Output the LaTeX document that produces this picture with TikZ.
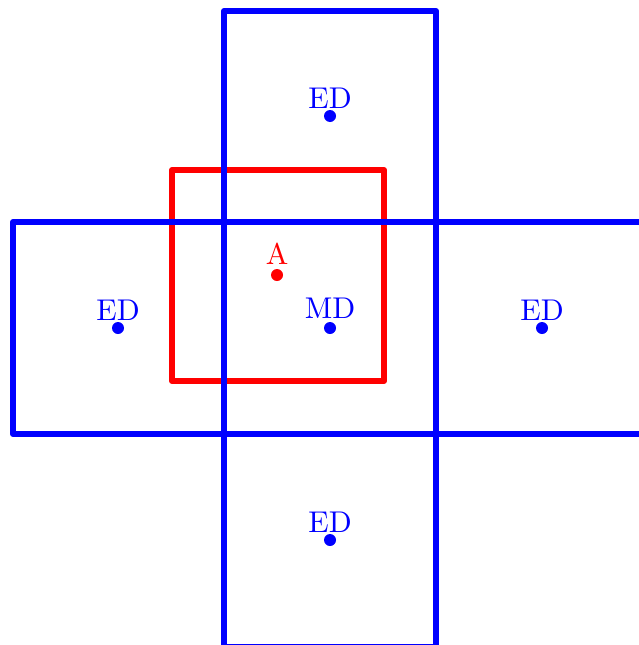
\documentclass[tikz,border=0pt]{standalone}
\begin{document}
\begin{tikzpicture}[x=1pt,y=-1pt,
  dot/.style={circle,fill,inner sep=0pt,minimum size=12pt},
  lbl/.style={anchor=base,inner sep=0pt,font=\fontsize{10}{12}\selectfont},
  frame/.style={line width=6pt,line join=round}]
\useasboundingbox (0,0) rectangle (639,645);
% red square
\draw[frame,red] (172,170) rectangle (384,381);
% blue cross
\draw[frame,blue] (13,222) rectangle (649,434);
\draw[frame,blue] (224,11) rectangle (436,647);
% dots
\node[dot,blue] (md) at (330,328) {};
\node[dot,blue] (edt) at (330,116) {};
\node[dot,blue] (edl) at (118,328) {};
\node[dot,blue] (edr) at (542,328) {};
\node[dot,blue] (edb) at (330,540) {};
\node[dot,red] (a) at (277,275) {};
% labels
\node[lbl,blue] (lmd) at ([yshift=10pt]md.center) {\scalebox{3}{MD}};
\node[lbl,blue] (ledt) at ([yshift=8pt]edt.center) {\scalebox{3}{ED}};
\node[lbl,blue] (ledl) at ([yshift=8pt]edl.center) {\scalebox{3}{ED}};
\node[lbl,blue] (ledr) at ([yshift=8pt]edr.center) {\scalebox{3}{ED}};
\node[lbl,blue] (ledb) at ([yshift=8pt]edb.center) {\scalebox{3}{ED}};
\node[lbl,red] (la) at ([yshift=11pt]a.center) {\scalebox{3}{A}};
\end{tikzpicture}
\end{document}
